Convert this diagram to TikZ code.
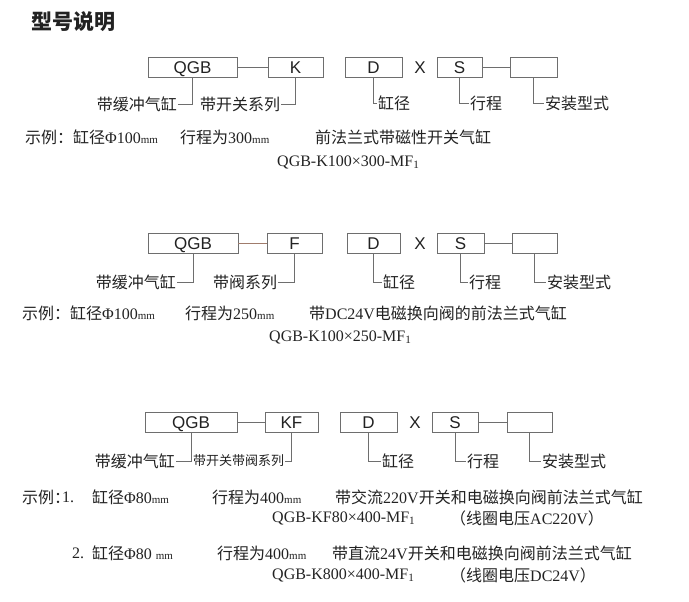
\documentclass[tikz,border=0pt]{standalone}
\usepackage{fontspec}
\setmainfont{Liberation Serif}
\newfontfamily\cjk{Noto Sans CJK SC}
\newfontfamily\boxfont{Liberation Sans}
\definecolor{ink}{HTML}{222222}
\definecolor{frame}{HTML}{6E6E6E}
\definecolor{rust}{HTML}{A07C6C}
\newcommand{\mmu}{{\fontsize{11}{11}\selectfont mm}}
\begin{document}
\begin{tikzpicture}[x=1pt,y=-1pt,
    every node/.style={text=ink},
    cell/.style={draw=frame,line width=0.9pt,minimum height=20pt,inner sep=0pt,
      text height=12.2pt,text depth=0pt,font=\boxfont\fontsize{17}{17}\selectfont},
    cross/.style={inner sep=0pt,text height=12.2pt,text depth=0pt,
      font=\boxfont\fontsize{17}{17}\selectfont},
    tag/.style={inner sep=1pt,font=\cjk\fontsize{16}{16}\selectfont},
    note/.style={inner sep=0pt,anchor=west,font=\fontsize{16}{16}\selectfont},
    link/.style={draw=frame,line width=0.9pt}]
  \useasboundingbox (0,0) rectangle (689,602);
  \node[anchor=west,inner sep=0pt,font=\cjk\bfseries\fontsize{21}{21}\selectfont] (title) at (31,22) {型号说明};

  \node[cell,minimum width=89pt] (qgb1) at (192.5,67) {QGB};
  \node[cell,minimum width=55pt] (k1) at (295.5,67) {K};
  \node[cell,minimum width=57pt] (d1) at (373.5,67) {D};
  \node[cross] (x1) at (420,67) {X};
  \node[cell,minimum width=45pt] (s1) at (459.5,67) {S};
  \node[cell,minimum width=47pt] (m1) at (533.5,67) {};
  \node[tag,anchor=east] (t1a) at (178,104) {带缓冲气缸};
  \node[tag,anchor=west] (t1b) at (199,104) {带开关系列};
  \node[tag,anchor=west] (t1c) at (377,103) {缸径};
  \node[tag,anchor=west] (t1d) at (469,103) {行程};
  \node[tag,anchor=west] (t1e) at (544,103) {安装型式};
  \draw[link] (qgb1) -- (k1);
  \draw[link] (s1) -- (m1);
  \draw[link] (qgb1.south) |- (t1a.east);
  \draw[link] (k1.south) |- (t1b.east);
  \draw[link] (d1.south) |- (t1c.west);
  \draw[link] (s1.south) |- (t1d.west);
  \draw[link] (m1.south) |- (t1e.west);
  \node[note] (e1a) at (25,137) {{\cjk 示例：缸径}Φ100\mmu};
  \node[note] (e1b) at (180,137) {{\cjk 行程为}300\mmu};
  \node[note] (e1c) at (315,137) {\cjk 前法兰式带磁性开关气缸};
  \node[note] (e1d) at (277,162) {QGB-K100×300-MF\textsubscript{1}};

  \node[cell,minimum width=90pt] (qgb2) at (193,243) {QGB};
  \node[cell,minimum width=55pt] (f2) at (294.5,243) {F};
  \node[cell,minimum width=53pt] (d2) at (373.5,243) {D};
  \node[cross] (x2) at (420,243) {X};
  \node[cell,minimum width=47pt] (s2) at (460.5,243) {S};
  \node[cell,minimum width=45pt] (m2) at (534.5,243) {};
  \node[tag,anchor=east] (t2a) at (177,282) {带缓冲气缸};
  \node[tag,anchor=west] (t2b) at (212,282) {带阀系列};
  \node[tag,anchor=west] (t2c) at (382,282) {缸径};
  \node[tag,anchor=west] (t2d) at (468,282) {行程};
  \node[tag,anchor=west] (t2e) at (546,282) {安装型式};
  \draw[link,draw=rust] (qgb2) -- (f2);
  \draw[link] (s2) -- (m2);
  \draw[link] (qgb2.south) |- (t2a.east);
  \draw[link] (f2.south) |- (t2b.east);
  \draw[link] (d2.south) |- (t2c.west);
  \draw[link] (s2.south) |- (t2d.west);
  \draw[link] (m2.south) |- (t2e.west);
  \node[note] (e2a) at (22,313) {{\cjk 示例：缸径}Φ100\mmu};
  \node[note] (e2b) at (185,313) {{\cjk 行程为}250\mmu};
  \node[note] (e2c) at (309,313) {{\cjk 带}DC24V{\cjk 电磁换向阀的前法兰式气缸}};
  \node[note] (e2d) at (269,337) {QGB-K100×250-MF\textsubscript{1}};

  \node[cell,minimum width=92pt] (qgb3) at (191,422) {QGB};
  \node[cell,minimum width=53pt] (kf3) at (291.5,422) {KF};
  \node[cell,minimum width=57pt] (d3) at (368.5,422) {D};
  \node[cross] (x3) at (415,422) {X};
  \node[cell,minimum width=46pt] (s3) at (455,422) {S};
  \node[cell,minimum width=45pt] (m3) at (529.5,422) {};
  \node[tag,anchor=east] (t3a) at (176,461) {带缓冲气缸};
  \node[tag,anchor=west,font=\cjk\fontsize{13}{13}\selectfont] (t3b) at (192,461) {带开关带阀系列};
  \node[tag,anchor=west] (t3c) at (381,461) {缸径};
  \node[tag,anchor=west] (t3d) at (466,461) {行程};
  \node[tag,anchor=west] (t3e) at (541,461) {安装型式};
  \draw[link] (qgb3) -- (kf3);
  \draw[link] (s3) -- (m3);
  \draw[link] (qgb3.south) |- (t3a.east);
  \draw[link] (kf3.south) |- (t3b.east);
  \draw[link] (d3.south) |- (t3c.west);
  \draw[link] (s3.south) |- (t3d.west);
  \draw[link] (m3.south) |- (t3e.west);
  \node[note] (e3a) at (22,497) {\cjk 示例：};
  \node[note] (e3b) at (62,497) {1.};
  \node[note] (e3c) at (92,497) {{\cjk 缸径}Φ80\mmu};
  \node[note] (e3d) at (212,497) {{\cjk 行程为}400\mmu};
  \node[note] (e3e) at (335,497) {{\cjk 带交流}220V{\cjk 开关和电磁换向阀前法兰式气缸}};
  \node[note] (e3f) at (272,518) {QGB-KF80×400-MF\textsubscript{1}};
  \node[note] (e3g) at (450,518) {{\cjk （线圈电压}AC220V{\cjk ）}};
  \node[note] (e3h) at (72,553) {2.};
  \node[note] (e3i) at (92,553) {{\cjk 缸径}Φ80 \mmu};
  \node[note] (e3j) at (217,553) {{\cjk 行程为}400\mmu};
  \node[note] (e3k) at (332,553) {{\cjk 带直流}24V{\cjk 开关和电磁换向阀前法兰式气缸}};
  \node[note] (e3l) at (272,575) {QGB-K800×400-MF\textsubscript{1}};
  \node[note] (e3m) at (450,575) {{\cjk （线圈电压}DC24V{\cjk ）}};
\end{tikzpicture}
\end{document}
